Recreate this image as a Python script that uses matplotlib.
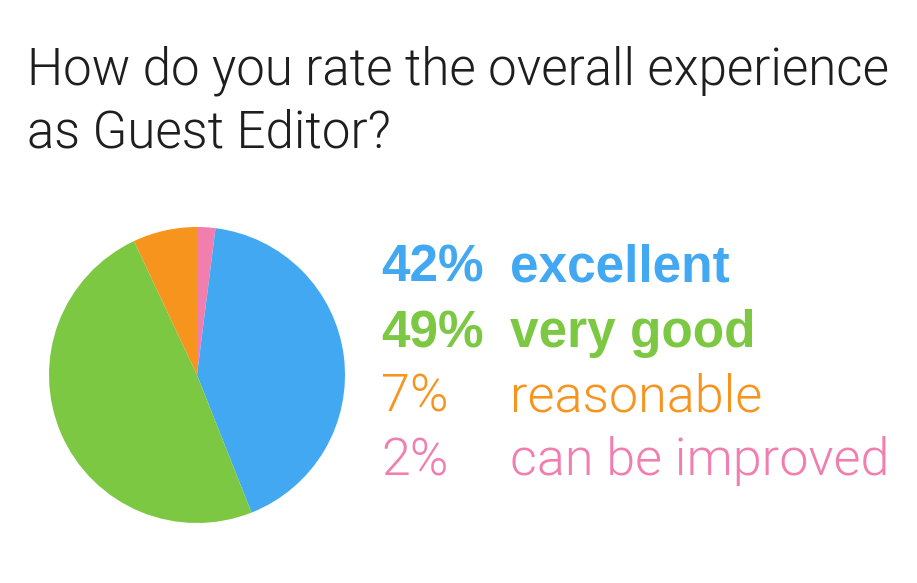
import matplotlib.pyplot as plt
from matplotlib import font_manager

labels = ['can be improved', 'excellent', 'very good', 'reasonable']
values = [2, 42, 49, 7]
colors = ['#f27eb0', '#42a8f2', '#7cc843', '#f7941e']

# legend rows, top to bottom
rows = ['excellent', 'very good', 'reasonable', 'can be improved']
bold_rows = ['excellent', 'very good']

fig = plt.figure(figsize=(9.17, 5.83), dpi=100)
fig.patch.set_facecolor('white')

light = [f for f in font_manager.fontManager.ttflist if f.name == 'Roboto']
light_fam = 'Roboto' if light else 'DejaVu Sans'

fig.text(27/917, 1 - 84/583, 'How do you rate the overall experience',
         fontsize=36.7, family=light_fam, weight=300, color='#1e1e1e', va='baseline')
fig.text(27/917, 1 - 148/583, 'as Guest Editor?',
         fontsize=36.7, family=light_fam, weight=300, color='#1e1e1e', va='baseline')

ax = fig.add_axes([(197 - 150)/917, 1 - (375 + 150)/583, 300/917, 300/583])
ax.pie(values, colors=colors, startangle=90, counterclock=False,
       radius=148/150, wedgeprops={'linewidth': 0})
ax.set_xlim(-1, 1)
ax.set_ylim(-1, 1)
ax.set_aspect('equal')
ax.axis('off')

baselines = [282, 347, 411, 475]
for name, y in zip(rows, baselines):
    i = labels.index(name)
    if name in bold_rows:
        fam, w, fs = 'Liberation Sans', 'bold', 37
    else:
        fam, w, fs = light_fam, 300, 37.5
    fig.text(381/917, 1 - y/583, '%d%%' % values[i], fontsize=fs, family=fam,
             weight=w, color=colors[i], va='baseline')
    fig.text(510/917, 1 - y/583, name, fontsize=fs, family=fam,
             weight=w, color=colors[i], va='baseline')

fig.savefig('out.png', dpi=100, facecolor='white')
